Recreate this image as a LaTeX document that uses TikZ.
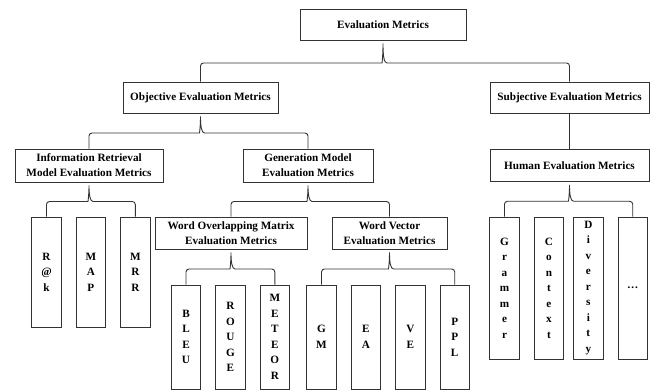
\documentclass[tikz,border=0pt]{standalone}
\usepackage{fontspec}
\setmainfont{Liberation Serif}
\usetikzlibrary{positioning, calc}

% brace from a parent down to the outer two children
\newcommand{\bracelink}[3]{%
  \draw[link] let \p1=(#1.south), \p2=(#2.north), \p3=(#3.north),
      \n1={0.5*(\y1+\y2)-2pt}, \n2={\y1-3pt} in
    (#2.north) [rounded corners=3pt] -- (\x2,\n1) -- (\x1-4pt,\n1) [sharp corners]
    .. controls (\x1-1pt,\n1) and (\x1,\n1+7pt) .. (\x1,\n2)
    .. controls (\x1,\n1+7pt) and (\x1+1pt,\n1) .. (\x1+4pt,\n1)
    [rounded corners=3pt] -- (\x3,\n1) -- (#3.north);
}

\begin{document}
\begin{tikzpicture}[
  x=1pt, y=-1pt,
  node distance=14pt,
  box/.style  = {draw=black!80, line width=0.9pt, align=center, inner sep=0pt},
  head/.style = {box, minimum height=31pt, font=\bfseries\fontsize{11.2}{15}\selectfont},
  leaf/.style = {box, minimum width=29.5pt, font=\bfseries\fontsize{11.2}{15.5}\selectfont},
  link/.style = {draw=black!80, line width=0.9pt},
]
  \path[use as bounding box, fill=white] (0,0) rectangle (651,390);

  \node[head, minimum width=166pt]                     (eval)  at (383,24.5)   {Evaluation Metrics};
  \node[head, minimum width=155pt]                     (obj)   at (200.5,97.5) {Objective Evaluation Metrics};
  \node[head, minimum width=159pt]                     (subj)  at (569.5,97.5) {Subjective Evaluation Metrics};
  \node[head, minimum width=148pt, minimum height=33pt] (ir)    at (89,165.5)   {Information Retrieval\\Model Evaluation Metrics};
  \node[head, minimum width=130pt, minimum height=33pt] (gen)   at (308,165.5)  {Generation Model\\Evaluation Metrics};
  \node[head, minimum width=159pt, minimum height=32pt] (human) at (569.5,165.5) {Human Evaluation Metrics};
  \node[head, minimum width=152pt, minimum height=32pt] (wom)   at (231,233)    {Word Overlapping Matrix\\Evaluation Metrics};
  \node[head, minimum width=115pt, minimum height=32pt] (wv)    at (389.5,233)  {Word Vector\\Evaluation Metrics};

  % leaves
  \node[leaf, minimum height=110pt]             (rk)  at (46.5,272) {R\\@\\k};
  \node[leaf, minimum height=110pt, right=of rk]  (map) {M\\A\\P};
  \node[leaf, minimum height=110pt, right=of map] (mrr) {M\\R\\R};

  \node[leaf, minimum height=104pt]                 (bleu)   at (186,337) {B\\L\\E\\U};
  \node[leaf, minimum height=104pt, right=of bleu]  (rouge)  {R\\O\\U\\G\\E};
  \node[leaf, minimum height=104pt, right=of rouge] (meteor) {M\\E\\T\\E\\O\\R};

  \node[leaf, minimum height=104pt]              (gm)  at (321.5,337) {G\\M};
  \node[leaf, minimum height=104pt, right=of gm] (ea)  {E\\A};
  \node[leaf, minimum height=104pt, right=of ea] (ve)  {V\\E};
  \node[leaf, minimum height=104pt, right=of ve] (ppl) {P\\P\\L};

  \node[leaf, minimum height=142pt]                   (gram) at (504.5,288) {G\\r\\a\\m\\m\\e\\r};
  \node[leaf, minimum height=142pt, right=of gram]    (ctx)  {C\\o\\n\\t\\e\\x\\t};
  \node[leaf, minimum height=142pt, right=9pt of ctx] (div)  {D\\i\\v\\e\\r\\s\\i\\t\\y};
  \node[leaf, minimum height=142pt, right=of div]     (dots) {\ldots};

  \foreach \u/\v/\w in {eval/obj/subj, obj/ir/gen, ir/rk/mrr, gen/wom/wv,
                        wom/bleu/meteor, wv/gm/ppl, human/gram/dots}
    \bracelink{\u}{\v}{\w};
  \draw[link] (subj) -- (human);
\end{tikzpicture}
\end{document}
